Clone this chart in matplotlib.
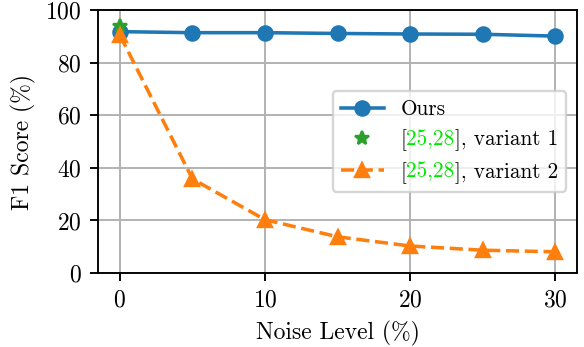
import matplotlib
matplotlib.use('Agg')
import matplotlib.pyplot as plt
from matplotlib.offsetbox import HPacker, TextArea

# Datos
noise = [0, 5, 10, 15, 20, 25, 30]
ours = [91.8, 91.4, 91.4, 91.1, 90.9, 90.8, 90.1]
var1_x = [0]
var1_y = [94.0]
var2 = [90.5, 35.8, 20.3, 13.8, 10.3, 8.7, 8.1]

cita = '25,28'
etiquetas = ['Ours', '[' + cita + '], variant 1', '[' + cita + '], variant 2']

plt.rcParams['font.family'] = 'serif'
plt.rcParams['font.serif'] = ['cmr10']
plt.rcParams['mathtext.fontset'] = 'cm'
plt.rcParams['axes.formatter.use_mathtext'] = True
plt.rcParams['font.size'] = 10

fig, ax = plt.subplots(figsize=(584 / 170, 347 / 170), dpi=170)
fig.subplots_adjust(left=0.168, right=0.988, top=0.971, bottom=0.213)

ax.plot(noise, ours, marker='o', color='C0', label=etiquetas[0])
ax.plot(var1_x, var1_y, marker='*', linestyle='none', color='C2', label=etiquetas[1])
ax.plot(noise, var2, marker='^', linestyle='--', color='C1', label=etiquetas[2])

ax.set_ylim(0, 100)
ax.set_xticks([0, 10, 20, 30])
ax.set_yticks([0, 20, 40, 60, 80, 100])
ax.set_xlabel('Noise Level (%)')
ax.set_ylabel('F1 Score (%)')
ax.grid(True)
ax.set_axisbelow(True)

leg = ax.legend(loc='center right', fontsize=9)

# Numeros de la cita en verde: se cambia el texto de la leyenda por trozos
props = dict(fontsize=9)
for col in leg._legend_handle_box.get_children():
    for fila in col.get_children():
        h, t = fila.get_children()
        txt = t._text.get_text()
        if txt.startswith('[' + cita + ']'):
            resto = txt[len(cita) + 1:]
            nuevo = HPacker(children=[
                TextArea('[', textprops=props),
                TextArea(cita, textprops=dict(fontsize=9, color='#00e600')),
                TextArea(resto, textprops=props),
            ], align='baseline', pad=0, sep=0)
            nuevo.set_figure(fig)
            fila._children[1] = nuevo

plt.savefig('out.png', dpi=170)
